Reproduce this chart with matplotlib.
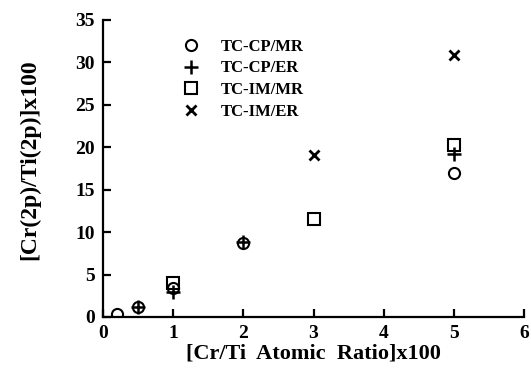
import matplotlib.pyplot as plt

plt.rcParams['font.family'] = ['Liberation Serif', 'DejaVu Serif']
plt.rcParams['font.weight'] = 'bold'

# TC-CP/MR
cp_mr_x = [0.2, 0.5, 1, 2, 5]
cp_mr_y = [0.4, 1.2, 3.4, 8.7, 17.0]
# TC-CP/ER
cp_er_x = [0.5, 1, 2, 5]
cp_er_y = [1.2, 3.0, 8.8, 19.2]
# TC-IM/MR
im_mr_x = [1, 3, 5]
im_mr_y = [4.0, 11.6, 20.3]
# TC-IM/ER
im_er_x = [3, 5]
im_er_y = [19.1, 30.9]

fig = plt.figure(figsize=(5.31, 3.69), dpi=100)
ax = fig.add_axes([0.194, 0.141, 0.793, 0.805])

ms = 8
ax.plot(cp_mr_x, cp_mr_y, 'o', mfc='none', mec='black', mew=1.5, ms=ms, label='TC-CP/MR')
ax.plot(cp_er_x, cp_er_y, '+', color='black', mew=1.8, ms=ms + 2, label='TC-CP/ER')
ax.plot(im_mr_x, im_mr_y, 's', mfc='none', mec='black', mew=1.5, ms=ms, label='TC-IM/MR')
ax.plot(im_er_x, im_er_y, 'x', color='black', mew=2, ms=ms - 1, label='TC-IM/ER')

ax.set_xlim(0, 6)
ax.set_ylim(0, 35)
ax.set_xticks(range(0, 7))
ax.set_yticks(range(0, 36, 5))
ax.spines['top'].set_visible(False)
ax.spines['right'].set_visible(False)
ax.spines['left'].set_linewidth(1.6)
ax.spines['bottom'].set_linewidth(1.6)
ax.tick_params(direction='in', length=6, width=1.6, labelsize=14, pad=6)

ax.set_xlabel('[Cr/Ti  Atomic  Ratio]x100', fontsize=16, fontweight='bold', labelpad=1)
ax.set_ylabel('[Cr(2p)/Ti(2p)]x100', fontsize=17, fontweight='bold')
ax.yaxis.set_label_coords(-0.15, 0.53)

leg = ax.legend(loc='upper left', bbox_to_anchor=(0.15, 0.965), frameon=False,
                fontsize=12, handletextpad=0.8, labelspacing=0.35, borderpad=0)

fig.savefig('out.png', dpi=100)
